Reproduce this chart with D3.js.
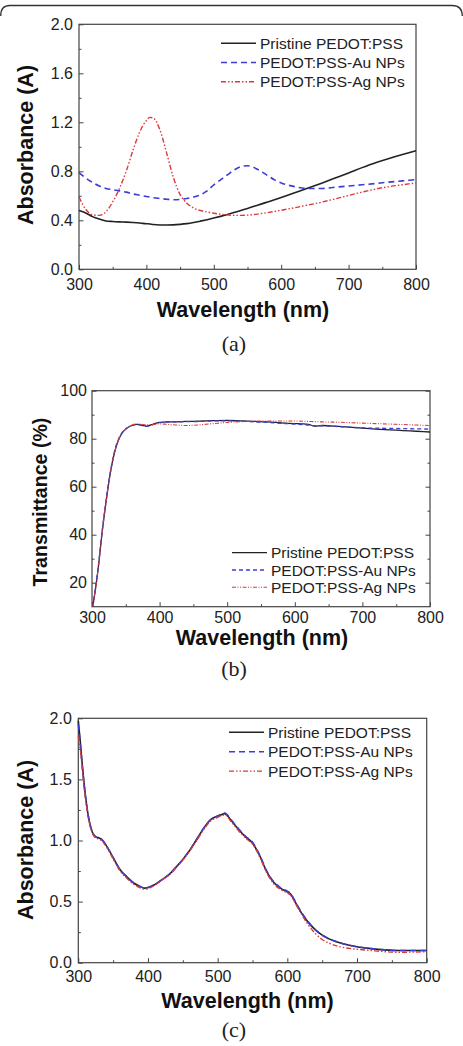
<!DOCTYPE html>
<html>
<head>
<meta charset="utf-8">
<script src="https://cdn.jsdelivr.net/npm/d3@7/dist/d3.min.js"></script>
<style>
  body { margin: 0; background: #fff; }
  svg { display: block; }
  .tick text { font-family: "Liberation Sans", Arial, sans-serif; font-size: 16px; fill: #222; }
  .domain { display: none; }
  .tick line { stroke: #444; stroke-width: 1; }
</style>
</head>
<body>
<svg id="chart" width="463" height="1046"></svg>
<script>
const seriesNames = ['Pristine PEDOT:PSS', 'PEDOT:PSS-Au NPs', 'PEDOT:PSS-Ag NPs'];

// (a) absorbance
const wlA = [300,310,320,330,340,350,360,370,380,390,400,405,410,420,430,440,450,460,470,480,490,500,510,520,530,540,550,560,570,580,590,600,620,640,660,680,700,720,740,760,780,800];
const pristineA = [.48,.46,.43,.41,.395,.39,.387,.385,.382,.378,.372,.37,.366,.362,.362,.363,.367,.373,.382,.393,.405,.418,.432,.447,.463,.48,.497,.515,.532,.55,.568,.587,.625,.663,.703,.745,.787,.83,.87,.905,.937,.967];
const auA = [.79,.745,.71,.68,.66,.65,.64,.63,.615,.605,.595,.59,.585,.578,.572,.568,.57,.578,.59,.607,.64,.69,.73,.77,.81,.838,.845,.83,.8,.765,.73,.705,.675,.66,.66,.67,.68,.69,.7,.712,.722,.732];
const agA = [.59,.49,.445,.44,.47,.55,.66,.8,.97,1.12,1.215,1.24,1.235,1.14,.95,.75,.61,.54,.5,.48,.468,.458,.45,.444,.44,.44,.442,.447,.455,.463,.472,.482,.503,.525,.548,.575,.603,.63,.655,.675,.69,.705];
const yTicksA = [0, 0.4, 0.8, 1.2, 1.6, 2.0];

// (b) transmittance
const wlB = [301,305,310,315,320,325,330,335,340,345,350,355,360,365,370,375,380,385,390,395,400,410,420,440,460,480,500,520,540,560,580,600,610,620,630,640,650,660,680,700,720,740,760,780,800];
const pristineB = [10,17,28,41,52,62,70,76,80,82.5,84,85,85.6,86,85.9,85.5,85.2,85.5,86,86.5,86.8,87,87,87.2,87.3,87.5,87.6,87.4,87.2,87,86.6,86.3,86.2,86,85.2,85.5,85.4,85.2,84.8,84.4,84,83.7,83.4,83.1,82.8];
const auB = [10,17.5,28.5,41.5,52.5,62.5,70.5,76.5,80.3,82.7,84.1,85,85.5,85.9,85.8,85.4,85.1,85.4,85.9,86.4,86.7,86.9,87,87.1,87.2,87.4,87.4,87.3,87,86.8,86.4,86.1,85.9,85.7,85.4,85.4,85.3,85.1,84.8,84.5,84.4,84.3,84.2,84.1,84];
const agB = [10,17,28,41,52,62,70,76,80,82.5,84,85,85.8,86.1,86.1,85.9,85.8,85.8,85.9,86,86.2,86,85.8,85.5,85.8,86.3,86.8,87.1,87.3,87.4,87.4,87.4,87.3,87.2,87.1,87,86.95,86.9,86.7,86.5,86.3,86.1,85.9,85.7,85.5];
const yTicksB = [20, 40, 60, 80, 100];

// (c) absorbance
const wlC = [300,303,306,310,315,320,325,330,335,340,350,360,370,380,390,395,400,410,420,430,440,450,460,470,480,490,500,505,510,520,530,540,550,560,570,580,590,600,605,610,620,630,640,650,660,680,700,720,740,760,780,800];
const pristineC = [1.98,1.8,1.6,1.38,1.18,1.07,1.03,1.02,1.0,.96,.86,.76,.7,.65,.62,.61,.615,.64,.68,.72,.78,.845,.92,1.01,1.1,1.17,1.2,1.21,1.22,1.16,1.09,1.03,.98,.88,.75,.66,.61,.58,.56,.51,.41,.33,.27,.225,.195,.155,.13,.115,.105,.1,.1,.1];
const auC = [1.95,1.78,1.59,1.37,1.18,1.07,1.03,1.02,1.0,.96,.86,.76,.7,.65,.62,.61,.615,.64,.68,.72,.78,.845,.92,1.01,1.1,1.17,1.2,1.215,1.225,1.165,1.095,1.035,.985,.885,.755,.665,.615,.585,.565,.515,.415,.335,.27,.225,.195,.155,.13,.115,.105,.1,.1,.1];
const agC = [1.85,1.74,1.57,1.36,1.17,1.06,1.02,1.01,.99,.95,.85,.75,.69,.64,.61,.6,.605,.635,.675,.715,.775,.84,.915,1.0,1.09,1.16,1.19,1.2,1.21,1.15,1.08,1.02,.97,.87,.74,.65,.6,.57,.55,.5,.4,.31,.24,.19,.16,.125,.11,.1,.09,.085,.087,.09];
const yTicksC = [0, 0.5, 1.0, 1.5, 2.0];

const xTicks = [300, 400, 500, 600, 700, 800];
const xMinor = [350, 450, 550, 650, 750];

const colors = ['#222', '#3c3cd8', '#dc3a3a'];

const svg = d3.select('#chart');

// card outline at the top
svg.append('path')
  .attr('d', 'M0.7,16 Q0.7,5.5 10,5.5 L452,5.5 Q462.3,5.5 462.3,16')
  .attr('fill', 'none')
  .attr('stroke', '#333')
  .attr('stroke-width', 1.3);

function drawPanel(p) {
  const x = d3.scaleLinear().domain([300, 800]).range([p.left, p.right]);
  const y = d3.scaleLinear().domain(p.yDomain).range([p.bottom, p.top]);
  const g = svg.append('g');

  const clipId = 'clip' + p.tag;
  svg.append('clipPath').attr('id', clipId)
    .append('rect')
    .attr('x', p.left).attr('y', p.top)
    .attr('width', p.right - p.left).attr('height', p.bottom - p.top);

  // minor ticks
  g.append('g').attr('transform', `translate(0,${p.bottom})`)
    .call(d3.axisBottom(x).tickValues(xMinor).tickSize(-2.5).tickFormat(''));
  g.append('g').attr('transform', `translate(${p.left},0)`)
    .call(d3.axisLeft(y).tickValues(p.yMinor).tickSize(-2.5).tickFormat(''));

  // major ticks + labels
  g.append('g').attr('transform', `translate(0,${p.bottom})`)
    .call(d3.axisBottom(x).tickValues(xTicks).tickSize(-4.5).tickPadding(p.xPad).tickFormat(d3.format('d')));
  g.append('g').attr('transform', `translate(${p.left},0)`)
    .call(d3.axisLeft(y).tickValues(p.yTicks).tickSize(-4.5).tickPadding(p.yPad).tickFormat(p.yFormat));

  if (p.rightTicks) {
    g.append('g').attr('transform', `translate(${p.right},0)`)
      .call(d3.axisRight(y).tickValues(p.yTicks).tickSize(-4.5).tickFormat(''));
    g.append('g').attr('transform', `translate(${p.right},0)`)
      .call(d3.axisRight(y).tickValues(p.yMinor).tickSize(-2.5).tickFormat(''));
  }

  // frame
  g.append('rect')
    .attr('x', p.left).attr('y', p.top)
    .attr('width', p.right - p.left).attr('height', p.bottom - p.top)
    .attr('fill', 'none').attr('stroke', '#444').attr('stroke-width', 1.2);

  const line = d3.line()
    .x(d => x(d[0]))
    .y(d => y(d[1]))
    .curve(d3.curveMonotoneX);

  p.series.forEach((vals, i) => {
    g.append('path')
      .datum(p.wl.map((w, j) => [w, vals[j]]))
      .attr('clip-path', `url(#${clipId})`)
      .attr('fill', 'none')
      .attr('stroke', colors[i])
      .attr('stroke-width', p.widths[i])
      .attr('stroke-dasharray', p.dashes[i])
      .attr('d', line);
  });

  // legend
  seriesNames.forEach((name, i) => {
    const ly = p.legY + i * p.legStep;
    g.append('line')
      .attr('x1', p.legX).attr('x2', p.legX + 35)
      .attr('y1', ly).attr('y2', ly)
      .attr('stroke', colors[i])
      .attr('stroke-width', p.widths[i])
      .attr('stroke-dasharray', p.dashes[i]);
    g.append('text')
      .attr('x', p.legX + 39).attr('y', ly).attr('dy', '0.36em')
      .style('font-family', '"Liberation Sans", Arial, sans-serif')
      .style('font-size', '15.5px').style('fill', '#222')
      .text(name);
  });

  // axis titles
  g.append('text')
    .attr('x', p.xTitleX).attr('y', p.xTitleY)
    .attr('text-anchor', 'middle')
    .style('font-family', '"Liberation Sans", Arial, sans-serif')
    .style('font-weight', 'bold').style('font-size', '21.5px').style('fill', '#111')
    .text('Wavelength (nm)');
  g.append('text')
    .attr('transform', `translate(${p.yTitleX},${p.yTitleY}) rotate(-90)`)
    .attr('text-anchor', 'middle').attr('dy', '0.36em')
    .style('font-family', '"Liberation Sans", Arial, sans-serif')
    .style('font-weight', 'bold').style('font-size', p.yTitleSize).style('fill', '#111')
    .text(p.yTitle);

  // panel label
  g.append('text')
    .attr('x', 234).attr('y', p.capY)
    .attr('text-anchor', 'middle')
    .style('font-family', '"Liberation Serif", "Times New Roman", serif')
    .style('font-size', '22px').style('fill', '#222')
    .text(p.tag);
}

drawPanel({
  tag: '(a)', left: 79, right: 416, top: 24.3, bottom: 269.3,
  yDomain: [0, 2], yTicks: yTicksA, yMinor: [0.2, 0.6, 1.0, 1.4, 1.8], yFormat: d3.format('.1f'),
  xPad: 9, yPad: 6,
  wl: wlA, series: [pristineA, auA, agA],
  widths: [1.6, 1.6, 1.4], dashes: [null, '6,4', '5,2,1.5,2,1.5,2'],
  legX: 221, legY: 43.3, legStep: 19.2,
  xTitleX: 243, xTitleY: 317, yTitleX: 25, yTitleY: 145, yTitle: 'Absorbance (A)', yTitleSize: '21.5px',
  capY: 351
});

drawPanel({
  tag: '(b)', left: 92, right: 430, top: 390.7, bottom: 606.7,
  yDomain: [10, 100], yTicks: yTicksB, yMinor: [30, 50, 70, 90], yFormat: d3.format('d'),
  xPad: 5, yPad: 5, rightTicks: true,
  wl: wlB, series: [pristineB, auB, agB],
  widths: [1.3, 1.3, 1.1], dashes: [null, '4,3', '4,1.5,1,1.5,1,1.5'],
  legX: 232, legY: 552.7, legStep: 17.3,
  xTitleX: 262, xTitleY: 645, yTitleX: 39.5, yTitleY: 502, yTitle: 'Transmittance (%)', yTitleSize: '19.6px',
  capY: 676
});

drawPanel({
  tag: '(c)', left: 78.3, right: 426.7, top: 718.3, bottom: 962.7,
  yDomain: [0, 2], yTicks: yTicksC, yMinor: [0.25, 0.75, 1.25, 1.75], yFormat: d3.format('.1f'),
  xPad: 8, yPad: 6.5,
  wl: wlC, series: [pristineC, auC, agC],
  widths: [1.6, 1.6, 1.4], dashes: [null, '6,4', '5,2,1.5,2,1.5,2'],
  legX: 229, legY: 732.3, legStep: 19.4,
  xTitleX: 247.5, xTitleY: 1008, yTitleX: 25, yTitleY: 840, yTitle: 'Absorbance (A)', yTitleSize: '21.5px',
  capY: 1037
});
</script>
</body>
</html>
